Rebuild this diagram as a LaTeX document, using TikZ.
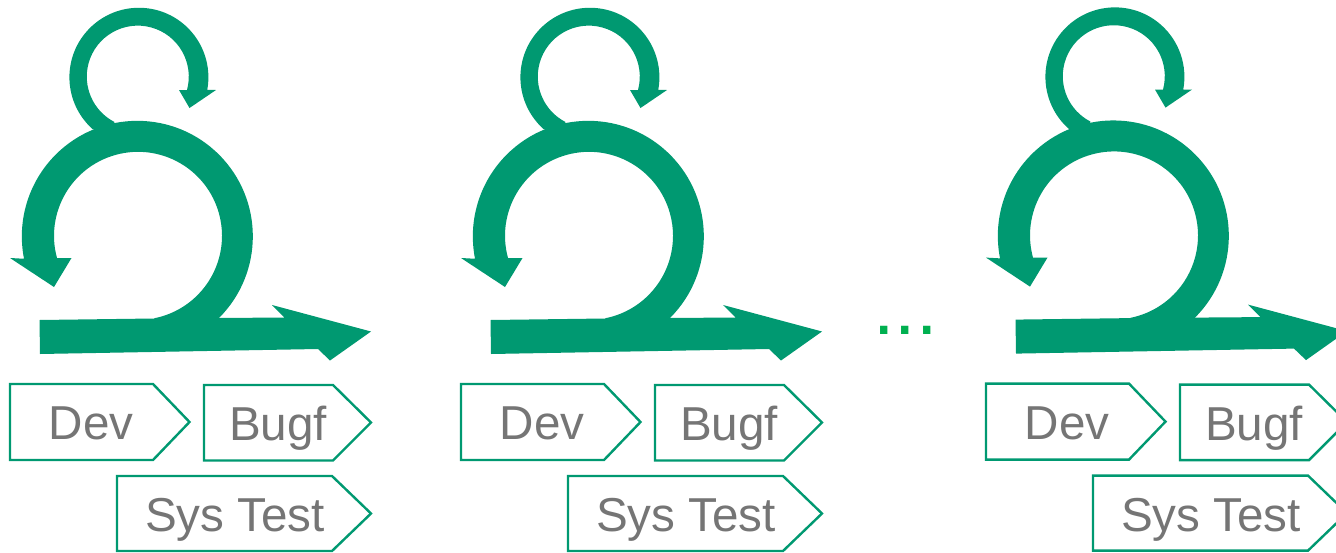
\documentclass[tikz,border=0pt]{standalone}
\usepackage{fontspec}
\setmainfont{Liberation Sans}
\definecolor{sgreen}{RGB}{0,153,113}
\definecolor{sgray}{RGB}{117,117,117}
\definecolor{dotgreen}{RGB}{0,176,80}
\tikzset{
  flowshape/.style={fill=sgreen,draw=none},
  phasebox/.style={draw=sgreen,line width=2.4pt,fill=white,line join=miter},
  phaselabel/.style={text=sgray,font=\fontsize{47.6}{50}\selectfont,inner sep=0pt,anchor=base},
  dotlabel/.style={text=dotgreen,font=\fontsize{77}{80}\selectfont,inner sep=0pt,anchor=base west}
}
\begin{document}
\begin{tikzpicture}[x=1pt,y=1pt,yscale=-1]
\useasboundingbox (0,0) rectangle (1336,552);
\clip (0,0) rectangle (1336,552);
\fill[white] (0,0) rectangle (1336,552);
\foreach \u/\dx/\dy in {a/0/0,b/451/0,c/976/-0.4}{
\begin{scope}[shift={(\dx,\dy)}]
  % small loop
  \fill[flowshape] (92.5,129) arc[start angle=131.9,end angle=370.5,radius=69.5pt]
    -- (216,90) -- (189.5,108) -- (179,90) -- (187,90)
    arc[start angle=375.2,end angle=117.3,radius=51pt] -- (112,135) -- cycle;
  % big loop
  \fill[flowshape] (219,318) arc[start angle=45,end angle=-191.2,radius=115.5pt]
    -- (10,258) -- (54,287) -- (71.5,258) -- (57,258)
    arc[start angle=-195.3,end angle=78.7,radius=84pt] -- (154,330) -- (219,330) -- cycle;
  % bar
  \fill[flowshape] (39.5,320) -- (154,318.5) -- (219,318) -- (284.5,317.5) -- (272,305)
    -- (371,331.5) -- (330,360.5) -- (318,349) -- (40,354) -- cycle;
  % phases
  \draw[phasebox] (10,384) -- (153,384) -- (189.5,422) -- (153,460) -- (10,460) -- cycle;
  \node[phaselabel] (\u dev) at (91,439.5) {Dev};
  \draw[phasebox] (204,385) -- (333,385) -- (371,422.5) -- (333,460.5) -- (204,460.5) -- cycle;
  \node[phaselabel] (\u bug) at (278,440.7) {Bugf};
  \draw[phasebox] (117,476) -- (332,476) -- (371,513.5) -- (332,551) -- (117,551) -- cycle;
  \node[phaselabel] (\u sys) at (235,531.7) {Sys Test};
\end{scope}}
\node[dotlabel] (dots) at (873,334) {...};
\end{tikzpicture}
\end{document}
